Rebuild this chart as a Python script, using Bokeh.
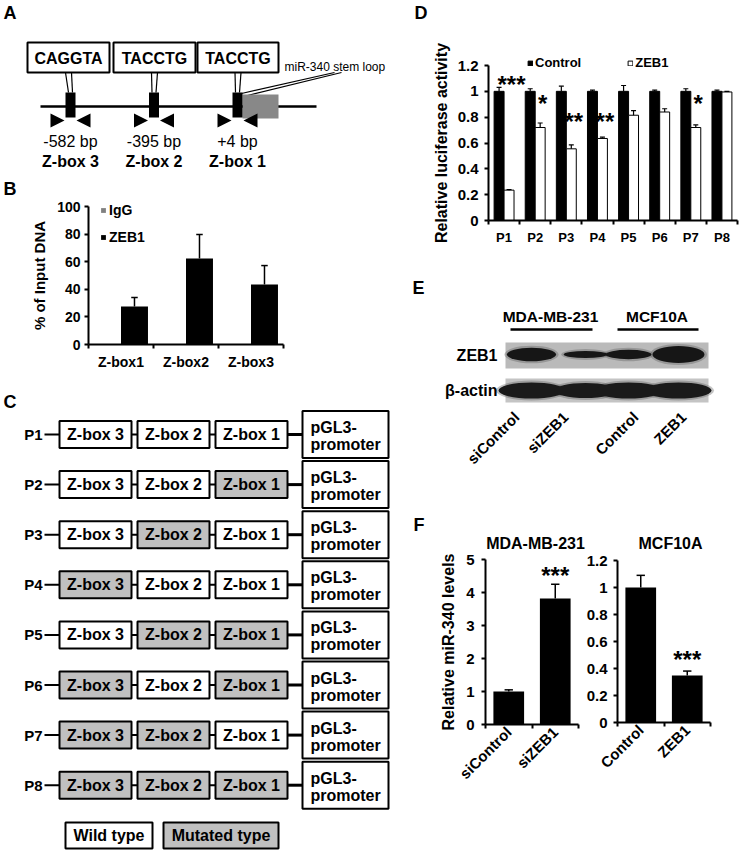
import math
from bokeh.plotting import figure
from bokeh.models import (Range1d, LinearAxis, FixedTicker, NumeralTickFormatter,
                          BasicTickFormatter, CustomJSTickFormatter, Legend, LegendItem)
from bokeh.core.properties import value
from bokeh.embed import file_html
from bokeh.resources import INLINE

# ======================= DATA =======================
# Panel A - promoter schematic
a_sites = ["Z-box 3", "Z-box 2", "Z-box 1"]
a_seqs = ["CAGGTA", "TACCTG", "TACCTG"]
a_positions = ["-582 bp", "-395 bp", "+4 bp"]
a_stem = "miR-340 stem loop"

# Panel B - ChIP
b_cats = ["Z-box1", "Z-box2", "Z-box3"]
b_series = ["IgG", "ZEB1"]
b_igg = [0.3, 0.4, 0.3]
b_zeb1 = [27.5, 62.3, 43.5]
b_zeb1_err = [6.5, 17.4, 13.7]
b_ticks = [0, 20, 40, 60, 80, 100]
b_ylabel = "% of Input DNA"

# Panel C - reporter constructs (1 = mutated), order Z-box 3, Z-box 2, Z-box 1
c_constructs = ["P1", "P2", "P3", "P4", "P5", "P6", "P7", "P8"]
c_elements = ["Z-box 3", "Z-box 2", "Z-box 1"]
c_mutated = [[0, 0, 0], [0, 0, 1], [0, 1, 0], [1, 0, 0],
             [0, 1, 1], [1, 0, 1], [1, 1, 0], [1, 1, 1]]
c_reporter = ["pGL3-", "promoter"]
c_legend = ["Wild type", "Mutated type"]

# Panel D - luciferase
d_cats = ["P1", "P2", "P3", "P4", "P5", "P6", "P7", "P8"]
d_series = ["Control", "ZEB1"]
d_control = [1.0, 1.0, 1.0, 1.0, 1.0, 1.0, 1.0, 1.0]
d_control_err = [0.03, 0.02, 0.04, 0.01, 0.045, 0.01, 0.02, 0.01]
d_zeb1 = [0.235, 0.72, 0.555, 0.635, 0.815, 0.84, 0.72, 0.995]
d_zeb1_err = [0.005, 0.035, 0.03, 0.01, 0.035, 0.025, 0.02, 0.005]
d_ticks = [0, 0.2, 0.4, 0.6, 0.8, 1.0, 1.2]
d_ylabel = "Relative luciferase activity"
d_sig_idx = [0, 1, 2, 3, 6]
d_sig_txt = ["***", "*", "**", "**", "*"]
d_sig_y = [1.08, 0.93, 0.79, 0.79, 0.93]

# Panel E - western blot
e_groups = ["MDA-MB-231", "MCF10A"]
e_lanes = ["siControl", "siZEB1", "Control", "ZEB1"]
e_rows = ["ZEB1", "β-actin"]
e_zeb1_band = [0.8, 0.4, 0.55, 1.0]
e_actin_band = [1.0, 0.95, 1.0, 1.0]

# Panel F - qPCR
f_titles = ["MDA-MB-231", "MCF10A"]
f1_cats = ["siControl", "siZEB1"]
f1_vals = [1.0, 3.82]
f1_err = [0.05, 0.43]
f1_ticks = [0, 1, 2, 3, 4, 5]
f2_cats = ["Control", "ZEB1"]
f2_vals = [1.0, 0.348]
f2_err = [0.09, 0.033]
f2_ticks = [0, 0.2, 0.4, 0.6, 0.8, 1.0, 1.2]
f_ylabel = "Relative miR-340 levels"
f_sig = "***"
f1_sig_y = 4.62
f2_sig_y = 0.49

# ======================= LAYOUT =======================
FONT = "Liberation Sans"
W, H = 739, 850
X0, Y0 = 0, 0
X1, Y1 = X0 + W, Y0 + H

p = figure(width=W, height=H, x_range=Range1d(X0, X1), y_range=Range1d(Y1, Y0),
           x_axis_type=None, y_axis_type=None, toolbar_location=None,
           output_backend="svg", min_border=0, outline_line_color=None)


def xr_map(v0, px0, v1, px1):
    m = (px1 - px0) / (v1 - v0)
    return Range1d(start=v0 + (X0 - px0) / m, end=v0 + (X1 - px0) / m)


def yr_map(v0, py0, v1, py1):
    m = (py1 - py0) / (v1 - v0)
    return Range1d(start=v0 + (Y1 - py0) / m, end=v0 + (Y0 - py0) / m)


p.extra_x_ranges = {
    "bx": xr_map(0, 88, 3, 283),
    "dx": xr_map(0, 488, 8, 737),
    "f1x": xr_map(0, 485, 2, 578),
    "f2x": xr_map(0, 617, 2, 710),
}
p.extra_y_ranges = {
    "by": yr_map(0, 344, 100, 206),
    "dy": yr_map(0, 220, 1.2, 65),
    "f1y": yr_map(0, 724, 5, 559),
    "f2y": yr_map(0, 722, 1.2, 560),
}


def text(xs, ys, strs, size, bold=True, align="center", baseline="middle",
         angle=0.0, xr="default", yr="default", color="black", y_offset=0):
    p.text(x=xs, y=ys, text=strs, text_font=value(FONT),
           text_font_size=f"{size}px",
           text_font_style="bold" if bold else "normal",
           text_align=align, text_baseline=baseline, angle=angle,
           text_color=color, x_range_name=xr, y_range_name=yr, y_offset=y_offset)


def style_axis(ax, tick_fs, standoff):
    ax.axis_line_width = 2
    ax.axis_line_color = "black"
    ax.major_tick_line_width = 2
    ax.major_tick_out = 4
    ax.major_tick_in = 0
    ax.minor_tick_out = 0
    ax.minor_tick_in = 0
    ax.major_label_text_font = FONT
    ax.major_label_text_font_style = "bold"
    ax.major_label_text_font_size = f"{tick_fs}px"
    ax.major_label_text_color = "black"
    ax.major_label_standoff = standoff
    ax.axis_label_text_font = FONT
    ax.axis_label_text_font_style = "bold"
    ax.axis_label_text_color = "black"


def chart_axes(xr, yr, cats, yticks, yfmt, ytick_fs, xlab_fs, xlab_angle,
               xlab_standoff, ytick_standoff, ylabel=None, ylabel_fs=16,
               ylabel_standoff=6):
    n = len(cats)
    ya = LinearAxis(x_range_name=xr, y_range_name=yr, fixed_location=0,
                    bounds=(yticks[0], yticks[-1]),
                    ticker=FixedTicker(ticks=yticks, minor_ticks=[]),
                    formatter=yfmt)
    style_axis(ya, ytick_fs, ytick_standoff)
    if ylabel:
        ya.axis_label = ylabel
        ya.axis_label_text_font_size = f"{ylabel_fs}px"
        ya.axis_label_standoff = ylabel_standoff
    p.add_layout(ya, "left")

    xa = LinearAxis(x_range_name=xr, y_range_name=yr, fixed_location=0,
                    bounds=(0, n),
                    ticker=FixedTicker(ticks=list(range(n + 1)), minor_ticks=[]),
                    formatter=CustomJSTickFormatter(code="return ''"))
    style_axis(xa, 1, 0)
    p.add_layout(xa, "below")

    xl = LinearAxis(x_range_name=xr, y_range_name=yr, fixed_location=0,
                    bounds=(0, n),
                    ticker=FixedTicker(ticks=[i + 0.5 for i in range(n)], minor_ticks=[]),
                    formatter=CustomJSTickFormatter(args=dict(labels=cats),
                                                    code="return labels[Math.floor(tick)];"))
    style_axis(xl, xlab_fs, xlab_standoff)
    xl.axis_line_color = None
    xl.major_tick_line_color = None
    xl.major_tick_out = 0
    xl.major_label_orientation = xlab_angle
    p.add_layout(xl, "below")


def err_bars(xs, tops, errs, cap, xr, yr, lw=1.5):
    p.segment(x0=xs, y0=tops, x1=xs, y1=[t + e for t, e in zip(tops, errs)],
              line_color="black", line_width=lw, x_range_name=xr, y_range_name=yr)
    p.segment(x0=[x - cap for x in xs], y0=[t + e for t, e in zip(tops, errs)],
              x1=[x + cap for x in xs], y1=[t + e for t, e in zip(tops, errs)],
              line_color="black", line_width=lw, x_range_name=xr, y_range_name=yr)


# ---------------- Panel letters ----------------
text([3, 3, 3], [12, 188, 401], ["A", "B", "C"], 18, align="left")
text([414, 412, 413], [12, 287, 524], ["D", "E", "F"], 18, align="left")

# ---------------- Panel A ----------------
a_site_x = [70, 153.5, 237]
a_box = [(27, 109), (113, 195), (197, 278)]
p.segment(x0=[40], y0=[106], x1=[316], y1=[106], line_color="black", line_width=2.5)
vx0, vy0, vx1, vy1 = [], [], [], []
for (l, r), sx in zip(a_box, a_site_x):
    bx = (l + r) / 2
    vx0 += [bx - 3, bx + 3]
    vy0 += [72, 72]
    vx1 += [sx - 2, sx + 2]
    vy1 += [92, 92]
p.segment(x0=vx0, y0=vy0, x1=vx1, y1=vy1, line_color="black", line_width=1.2)
p.segment(x0=[241, 247], y0=[93, 95], x1=[334, 341], y1=[72, 72],
          line_color="black", line_width=1.2)
p.quad(left=[l for l, r in a_box], right=[r for l, r in a_box], top=[42] * 3,
       bottom=[72] * 3, fill_color="white", line_color="black", line_width=2)
text([(l + r) / 2 for l, r in a_box], [57.5] * 3, a_seqs, 16)
p.quad(left=[242], right=[278], top=[94], bottom=[118], fill_color="#888888",
       line_color=None)
p.quad(left=[s - 5 for s in a_site_x], right=[s + 5 for s in a_site_x],
       top=[92] * 3, bottom=[117] * 3, fill_color="black", line_color=None)
p.patches(xs=[[s - 20, s - 20, s - 6] for s in a_site_x] + [[s + 20, s + 20, s + 6] for s in a_site_x],
          ys=[[113, 127, 120]] * 6, fill_color="black", line_color=None)
text(a_site_x, [141] * 3, a_positions, 16, bold=False)
text(a_site_x, [161] * 3, a_sites, 16)
text([284], [66], [a_stem], 12, bold=False, align="left")

# ---------------- Panel B ----------------
bw = 0.415
bxc = [i + 0.5 for i in range(len(b_cats))]
r_igg = p.vbar(x=[c - bw / 2 for c in bxc], top=b_igg, width=bw, bottom=0,
               fill_color="#808080", line_color=None, x_range_name="bx", y_range_name="by")
r_bz = p.vbar(x=[c + bw / 2 for c in bxc], top=b_zeb1, width=bw, bottom=0,
              fill_color="black", line_color=None, x_range_name="bx", y_range_name="by")
err_bars([c + bw / 2 for c in bxc], b_zeb1, b_zeb1_err, 0.05, "bx", "by")
chart_axes("bx", "by", b_cats, b_ticks, BasicTickFormatter(), 14, 14, "horizontal",
           9, 4, ylabel=b_ylabel, ylabel_fs=15, ylabel_standoff=6)
leg_b = Legend(items=[LegendItem(label=b_series[0], renderers=[r_igg]),
                      LegendItem(label=b_series[1], renderers=[r_bz])],
               location=(100, H - 245), orientation="vertical",
               glyph_width=6, glyph_height=6, label_standoff=3, spacing=11,
               padding=0, margin=0, label_height=14,
               label_text_font=FONT, label_text_font_style="bold",
               label_text_color="black",
               label_text_font_size="14px", background_fill_alpha=0,
               border_line_alpha=0)
p.add_layout(leg_b, "center")

# ---------------- Panel C ----------------
c_box_x = [(59, 131), (137, 209), (215, 287)]
row_y = [434 + 50.1 * i for i in range(len(c_constructs))]
ql, qr, qt, qb, qf = [], [], [], [], []
tx, ty, tt = [], [], []
sx0, sx1, sy = [], [], []
for i, cy in enumerate(row_y):
    for j, (l, r) in enumerate(c_box_x):
        ql.append(l); qr.append(r); qt.append(cy - 13.5); qb.append(cy + 13.5)
        qf.append("#c0c0c0" if c_mutated[i][j] else "white")
        tx.append((l + r) / 2); ty.append(cy); tt.append(c_elements[j])
    sx0 += [44, 131, 209]; sx1 += [59, 137, 215]; sy += [cy, cy, cy]
p.segment(x0=sx0, y0=sy, x1=sx1, y1=sy, line_color="black", line_width=2)
p.segment(x0=[287] * 8, y0=row_y, x1=[302] * 8, y1=row_y, line_color="black", line_width=3)
p.quad(left=ql, right=qr, top=qt, bottom=qb, fill_color=qf, line_color="black", line_width=2)
text(tx, ty, tt, 16)
p.quad(left=[302] * 8, right=[388] * 8, top=[y - 23.5 for y in row_y],
       bottom=[y + 23.5 for y in row_y], fill_color="white", line_color="black", line_width=2)
text([310] * 8, [y - 7 for y in row_y], [c_reporter[0]] * 8, 16, align="left")
text([310] * 8, [y + 10 for y in row_y], [c_reporter[1]] * 8, 16, align="left")
text([42] * 8, row_y, c_constructs, 15, align="right")
p.quad(left=[65, 163], right=[152, 278], top=[822, 822], bottom=[848, 848],
       fill_color=["white", "#c0c0c0"], line_color="black", line_width=2)
text([108.5, 220.5], [835, 835], c_legend, 16)

# ---------------- Panel D ----------------
dbw = 0.32
dxc = [i + 0.5 for i in range(len(d_cats))]
r_dc = p.vbar(x=[c - dbw / 2 for c in dxc], top=d_control, width=dbw, bottom=0,
              fill_color="black", line_color="black", line_width=1,
              x_range_name="dx", y_range_name="dy")
r_dz = p.vbar(x=[c + dbw / 2 for c in dxc], top=d_zeb1, width=dbw, bottom=0,
              fill_color="white", line_color="black", line_width=1,
              x_range_name="dx", y_range_name="dy")
err_bars([c - dbw / 2 for c in dxc], d_control, d_control_err, 0.08, "dx", "dy", lw=1.2)
err_bars([c + dbw / 2 for c in dxc], d_zeb1, d_zeb1_err, 0.08, "dx", "dy", lw=1.2)
chart_axes("dx", "dy", d_cats, d_ticks, NumeralTickFormatter(format="0.[0]"), 15, 13,
           "horizontal", 9, 6, ylabel=d_ylabel, ylabel_fs=16, ylabel_standoff=5)
leg_d = Legend(items=[LegendItem(label=d_series[0], renderers=[r_dc]),
                      LegendItem(label=d_series[1], renderers=[r_dz])],
               location=(527, H - 70), orientation="horizontal",
               glyph_width=6, glyph_height=6, label_standoff=2, spacing=46,
               padding=0, margin=0, label_height=13,
               label_text_font=FONT, label_text_font_style="bold",
               label_text_color="black",
               label_text_font_size="13px", background_fill_alpha=0,
               border_line_alpha=0)
p.add_layout(leg_d, "center")
text([d_sig_idx[k] + 0.5 + dbw / 2 + 0.08 for k in range(len(d_sig_idx))], d_sig_y,
     d_sig_txt, 24, xr="dx", yr="dy", y_offset=3)

# ---------------- Panel E ----------------
e_lane_x = [531, 585, 628, 678]
text([550, 656.5], [316, 316], e_groups, 15.5)
p.segment(x0=[510, 617], y0=[329, 329], x1=[592, 698], y1=[329, 329],
          line_color="black", line_width=2.5)
p.quad(left=[505, 505], right=[708, 708], top=[342, 378], bottom=[368, 402],
       fill_color=["#bababa", "#c4c4c4"], line_color=None)
zw = [38 + 14 * v for v in e_zeb1_band]
zh = [17 * v for v in e_zeb1_band]
p.ellipse(x=e_lane_x, y=[354] * 4, width=[w + 5 for w in zw], height=[h + 4 for h in zh],
          fill_color="#555555", fill_alpha=0.35, line_color=None)
p.ellipse(x=e_lane_x, y=[354] * 4, width=zw, height=zh, fill_color="#161616", line_color=None)
aw = [66 * v for v in e_actin_band]
ah = [16 * v for v in e_actin_band]
p.ellipse(x=e_lane_x, y=[390] * 4, width=[w + 5 for w in aw], height=[h + 4 for h in ah],
          fill_color="#555555", fill_alpha=0.35, line_color=None)
p.ellipse(x=e_lane_x, y=[390] * 4, width=aw, height=ah, fill_color="#1a1a1a", line_color=None)
text([497, 497], [355, 390], e_rows, 16, align="right")
text([516, 565, 635, 683], [414] * 4, e_lanes, 15, align="right", angle=math.pi / 4)

# ---------------- Panel F ----------------
fbw = 0.66
r_f1 = p.vbar(x=[0.5, 1.5], top=f1_vals, width=fbw, bottom=0, fill_color="black",
              line_color=None, x_range_name="f1x", y_range_name="f1y")
err_bars([0.5, 1.5], f1_vals, f1_err, 0.09, "f1x", "f1y")
chart_axes("f1x", "f1y", f1_cats, f1_ticks, BasicTickFormatter(), 15, 15, math.pi / 4,
           5, 7, ylabel=f_ylabel, ylabel_fs=16, ylabel_standoff=6)
r_f2 = p.vbar(x=[0.5, 1.5], top=f2_vals, width=fbw, bottom=0, fill_color="black",
              line_color=None, x_range_name="f2x", y_range_name="f2y")
err_bars([0.5, 1.5], f2_vals, f2_err, 0.09, "f2x", "f2y")
chart_axes("f2x", "f2y", f2_cats, f2_ticks, NumeralTickFormatter(format="0.[0]"), 15, 15,
           math.pi / 4, 5, 6)
text([535, 670], [543, 543], f_titles, 16)
text([1.5], [f1_sig_y], [f_sig], 24, xr="f1x", yr="f1y", y_offset=3)
text([1.5], [f2_sig_y], [f_sig], 24, xr="f2x", yr="f2y", y_offset=3)

open("out.html", "w").write(file_html(p, INLINE))
